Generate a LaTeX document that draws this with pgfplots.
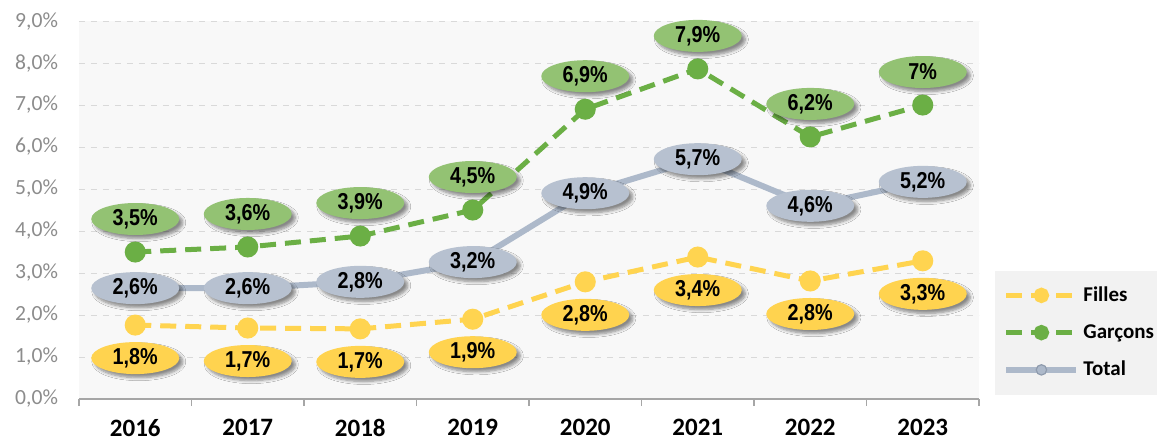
\documentclass[border=0pt]{standalone}
\usepackage{fontspec}
\setmainfont{Carlito}
\newfontfamily\lblfont[FakeStretch=0.86]{Liberation Sans}
\usepackage{pgfplots}
\pgfplotsset{compat=1.18}
\usetikzlibrary{shapes.geometric, shadows.blur}

\definecolor{fillesline}{HTML}{FFD450}
\definecolor{fillesfill}{HTML}{FFD34F}
\definecolor{garcline}{HTML}{6BAF45}
\definecolor{garcfill}{HTML}{93C273}
\definecolor{totline}{HTML}{ADB9CA}
\definecolor{totfill}{HTML}{B7C1D0}
\definecolor{totmark}{HTML}{8F9BAD}
\definecolor{plotbg}{HTML}{F8F8F8}
\definecolor{legbg}{HTML}{F2F2F2}
\definecolor{ticktext}{HTML}{8C8C8C}

\tikzset{
  lbl/.style={ellipse, fill=#1, minimum width=44pt, minimum height=16pt, inner sep=0pt,
    font=\lblfont\bfseries\fontsize{11.5}{12}\selectfont, text=black,
    blur shadow={shadow xshift=1.8pt, shadow yshift=-1.8pt, shadow blur steps=6,
      shadow blur radius=1.5pt, shadow opacity=45}},
}

\begin{document}
\begin{tikzpicture}
\path[use as bounding box] (-39.5pt,-20.5pt) rectangle (539pt,199.5pt);
\begin{axis}[
  scale only axis,
  width=450pt, height=189pt,
  xmin=-0.5, xmax=7.5,
  ymin=0, ymax=9,
  clip=false,
  axis background/.style={fill=plotbg},
  axis x line*=bottom,
  axis y line*=left,
  y axis line style={draw=none},
  x axis line style={draw=black!35, line width=0.8pt},
  xtick={0,...,7},
  xticklabels={2016,2017,2018,2019,2020,2021,2022,2023},
  minor xtick={-0.5,0.5,...,7.5},
  major tick length=0pt,
  minor tick length=3.5pt,
  tick align=outside,
  minor x tick style={draw=black!35, line width=0.8pt},
  xticklabel style={font=\bfseries\fontsize{12.5}{14}\selectfont, yshift=-6.5pt},
  ytick={0,...,9},
  yticklabels={{0,0\%},{1,0\%},{2,0\%},{3,0\%},{4,0\%},{5,0\%},{6,0\%},{7,0\%},{8,0\%},{9,0\%}},
  yticklabel style={font=\fontsize{10.8}{12}\selectfont, text=ticktext, xshift=-7pt},
  ymajorgrids,
  major grid style={dashed, draw=black!15, line width=0.4pt},
  point meta=explicit symbolic,
  nodes near coords,
  legend style={at={(1.0178,0.341)}, anchor=north west, fill=legbg, draw=none,
    font=\bfseries\fontsize{10.5}{12}\selectfont, row sep=6pt,
    inner xsep=4pt, inner ysep=6pt},
  legend cell align=left,
  legend image code/.code={\draw[mark repeat=2,mark phase=2,#1,mark size=2.6pt] plot coordinates {(0pt,0pt) (17.5pt,0pt) (35pt,0pt)};},
]
\addplot[color=fillesline, line width=2.5pt, dash pattern=on 8pt off 4.5pt,
  mark=*, mark size=4pt, mark options={solid, fill=fillesline, draw=fillesline},
  every node near coord/.append style={lbl=fillesfill, anchor=center, yshift=-16.5pt}]
coordinates {
  (0,1.76) [1,8\%] (1,1.69) [1,7\%] (2,1.67) [1,7\%] (3,1.90) [1,9\%]
  (4,2.79) [2,8\%] (5,3.38) [3,4\%] (6,2.81) [2,8\%] (7,3.29) [3,3\%]
};
\addlegendentry{Filles}
\addplot[color=garcline, line width=2.5pt, dash pattern=on 8pt off 4.5pt,
  mark=*, mark size=4pt, mark options={solid, fill=garcline, draw=garcline},
  every node near coord/.append style={lbl=garcfill, anchor=center, yshift=16.5pt}]
coordinates {
  (0,3.50) [3,5\%] (1,3.62) [3,6\%] (2,3.88) [3,9\%] (3,4.50) [4,5\%]
  (4,6.90) [6,9\%] (5,7.86) [7,9\%] (6,6.24) [6,2\%] (7,7.00) [7\%]
};
\addlegendentry{Garçons}
\addplot[color=totline, line width=3pt,
  mark=*, mark size=3.5pt, mark options={solid, fill=totline, draw=totmark, line width=0.6pt},
  every node near coord/.append style={lbl=totfill, anchor=center}]
coordinates {
  (0,2.64) [2,6\%] (1,2.64) [2,6\%] (2,2.79) [2,8\%] (3,3.26) [3,2\%]
  (4,4.90) [4,9\%] (5,5.71) [5,7\%] (6,4.60) [4,6\%] (7,5.17) [5,2\%]
};
\addlegendentry{Total}
\end{axis}
\end{tikzpicture}
\end{document}
